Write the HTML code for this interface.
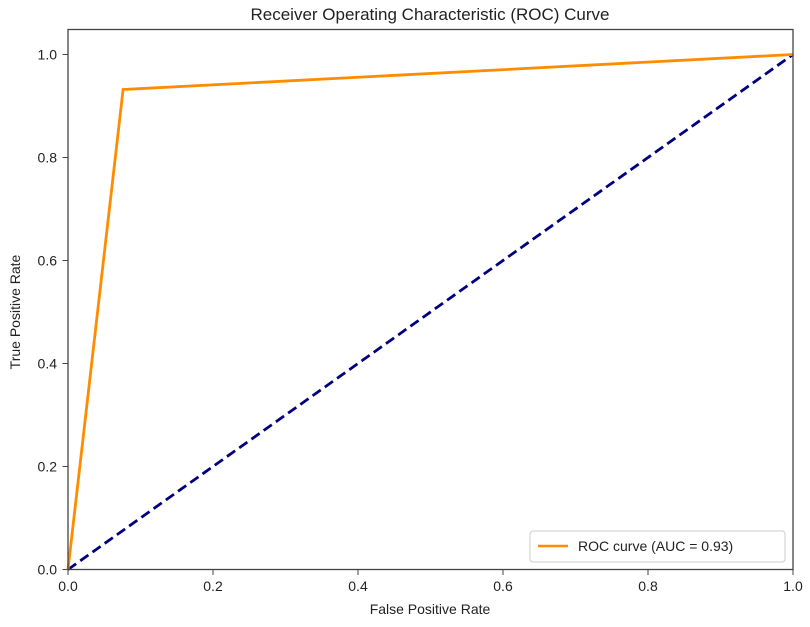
<!DOCTYPE html>
<html><head><meta charset="utf-8"><style>
body{margin:0;background:#fff;width:810px;height:622px;overflow:hidden}
svg{font-family:"Liberation Sans","DejaVu Sans",sans-serif}
</style></head><body>
<svg id="chart" width="810" height="622">
<text x="430" y="20" font-size="17" text-anchor="middle" fill="#222">Receiver Operating Characteristic (ROC) Curve</text>
<g id="ticks"></g>
<g id="series"></g>
<rect x="68" y="29.5" width="725" height="540" fill="none" stroke="#444" stroke-width="1.3"/>
<text x="430" y="614" font-size="14" text-anchor="middle" fill="#222">False Positive Rate</text>
<text x="20" y="312" font-size="14" text-anchor="middle" fill="#222" transform="rotate(-90 20 312)">True Positive Rate</text>
<g>
<rect x="530" y="531" width="255" height="31" rx="3" fill="#fff" stroke="#ccc"/>
<line x1="538" y1="546" x2="568" y2="546" stroke="#ff8c00" stroke-width="2.5"/>
<text x="578" y="551" font-size="14" fill="#222">ROC curve (AUC = 0.93)</text>
</g>
</svg>
<script>
const fpr=[0,0.076,1];
const tpr=[0,0.932,1];
const diagX=[0,1];
const diagY=[0,1];
const xTicks=[0,0.2,0.4,0.6,0.8,1.0];
const yTicks=[0,0.2,0.4,0.6,0.8,1.0];
const xs=v=>68+v*725;
const ys=v=>569.5-v*515;
const NS="http://www.w3.org/2000/svg";
const tg=document.getElementById('ticks');
xTicks.forEach(t=>{
 const l=document.createElementNS(NS,'line');
 l.setAttribute('x1',xs(t));l.setAttribute('x2',xs(t));l.setAttribute('y1',569.5);l.setAttribute('y2',575);
 l.setAttribute('stroke','#444');
 
 
 tg.appendChild(l);
 const tx=document.createElementNS(NS,'text');
 tx.setAttribute('x',xs(t));tx.setAttribute('y',591);tx.setAttribute('font-size','14');tx.setAttribute('text-anchor','middle');tx.setAttribute('fill','#222');
 tx.textContent=t.toFixed(1);
 
 
 tg.appendChild(tx);
});
yTicks.forEach(t=>{
 const l=document.createElementNS(NS,'line');
 l.setAttribute('x1',62.5);l.setAttribute('x2',68);l.setAttribute('y1',ys(t));l.setAttribute('y2',ys(t));
 l.setAttribute('stroke','#444');
 
 
 tg.appendChild(l);
 const tx=document.createElementNS(NS,'text');
 tx.setAttribute('x',57);tx.setAttribute('y',ys(t)+5);tx.setAttribute('font-size','14');tx.setAttribute('text-anchor','end');tx.setAttribute('fill','#222');
 tx.textContent=t.toFixed(1);
 
 
 tg.appendChild(tx);
});
const sg=document.getElementById('series');
const d=document.createElementNS(NS,'polyline');
d.setAttribute('points',diagX.map((x,i)=>xs(x)+','+ys(diagY[i])).join(' '));
d.setAttribute('fill','none');d.setAttribute('stroke','#000080');d.setAttribute('stroke-width','2.8');d.setAttribute('stroke-dasharray','10,5');


sg.appendChild(d);
const r=document.createElementNS(NS,'polyline');
r.setAttribute('points',fpr.map((x,i)=>xs(x)+','+ys(tpr[i])).join(' '));
r.setAttribute('fill','none');r.setAttribute('stroke','#ff8c00');r.setAttribute('stroke-width','2.8');


sg.appendChild(r);
</script>
</body></html>
